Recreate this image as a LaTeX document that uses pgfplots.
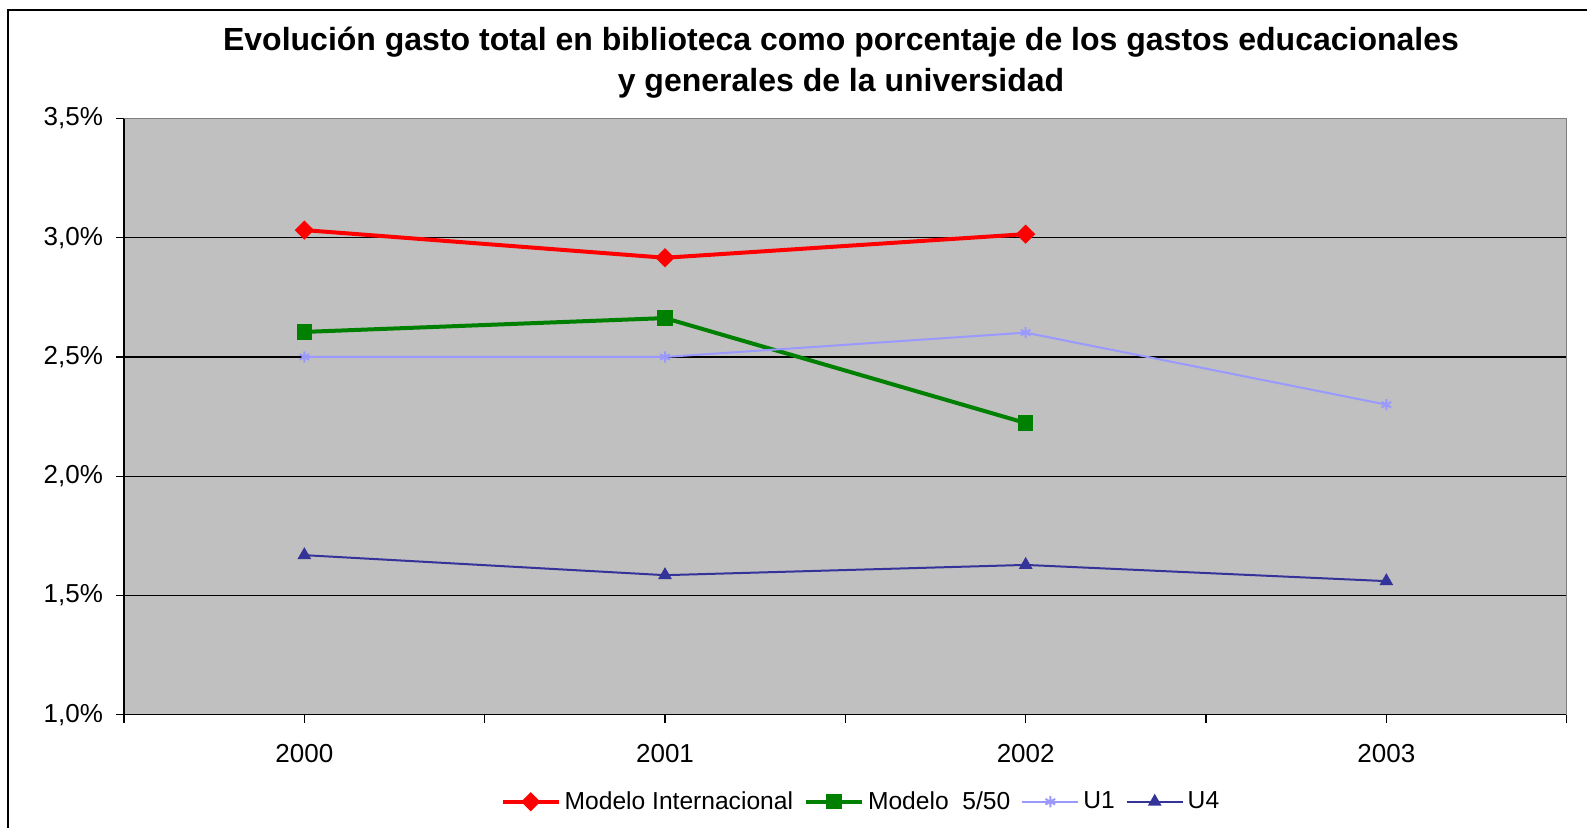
\documentclass[border=0pt]{standalone}
\usepackage{pgfplots}
\pgfplotsset{compat=1.18}
\usepackage{fontspec}
\setmainfont{Liberation Sans}
\definecolor{plotbg}{HTML}{C0C0C0}
\definecolor{cRed}{HTML}{FF0000}
\definecolor{cGreen}{HTML}{008000}
\definecolor{cU1}{HTML}{9999FF}
\definecolor{cU4}{HTML}{333399}
\begin{document}
\begin{tikzpicture}
\clip (-62pt,-56.65pt) rectangle (731.5pt,357.35pt);
\fill[white] (-62pt,-56.65pt) rectangle (731.5pt,357.35pt);
\draw[black, line width=0.8pt] (-58pt,-80pt) rectangle (760pt,352.35pt);
\begin{axis}[
  at={(0,0)}, anchor=south west,
  scale only axis, width=721.35pt, height=298.1pt,
  xmin=-0.5, xmax=3.5, ymin=1, ymax=3.5,
  axis background/.style={fill=plotbg},
  axis x line*=bottom, axis y line*=left,
  axis line style={black, line width=0.7pt},
  xtick={0,1,2,3}, xticklabels={2000,2001,2002,2003},
  minor xtick={-0.5,0.5,1.5,2.5,3.5},
  ytick={1,1.5,2,2.5,3,3.5},
  yticklabel={\pgfmathprintnumber[fixed,fixed zerofill,precision=1,use comma]{\tick}\%},
  /pgf/number format/assume math mode=true,
  tick align=outside, tick pos=left,
  major tick length=4pt, minor tick length=4pt,
  tick style={black, line width=0.6pt},
  ymajorgrids, major grid style={black, line width=0.6pt},
  ticklabel style={font=\fontsize{13}{15}\selectfont},
  xticklabel style={yshift=-7.5pt},
  yticklabel style={xshift=-3pt},
  clip=false,
  legend columns=4,
  legend style={at={(0.5115,-0.146)}, anchor=center, draw=none, fill=none,
    font=\fontsize{12.3}{15}\selectfont, column sep=0pt,
    /tikz/every even column/.append style={column sep=3.5pt}},
  legend image code/.code={\draw[mark repeat=2,mark phase=2,#1] plot coordinates {(0pt,0pt) (14pt,0pt) (28pt,0pt)};},
  title={Evolución gasto total en biblioteca como porcentaje de los gastos educacionales\\y generales de la universidad},
  title style={at={(0.497,1)}, anchor=center, yshift=21.8pt, align=center,
    font=\bfseries\fontsize{16}{20.75}\selectfont},
]
\draw[color=gray, line width=0.7pt] (rel axis cs:0,1) -- (rel axis cs:1,1) -- (rel axis cs:1,0);
\addplot[color=cRed, line width=2pt, mark=square*, mark size=2.4pt, mark options={rotate=45, solid}]
  coordinates {(0,3.032) (1,2.916) (2,3.015)};
\addlegendentry{Modelo Internacional}
\addplot[color=cGreen, line width=2pt, mark=square*, mark size=2.8pt, mark options={solid}]
  coordinates {(0,2.605) (1,2.663) (2,2.223)};
\addlegendentry{Modelo\ \ 5/50}
\addplot[color=cU1, line width=1pt, mark=asterisk, mark size=2.8pt, mark options={solid}]
  coordinates {(0,2.5) (1,2.5) (2,2.602) (3,2.30)};
\addlegendentry{U1}
\addplot[color=cU4, line width=1pt, mark=triangle*, mark size=3pt, mark options={solid}]
  coordinates {(0,1.669) (1,1.585) (2,1.628) (3,1.56)};
\addlegendentry{U4}
\end{axis}
\end{tikzpicture}
\end{document}
